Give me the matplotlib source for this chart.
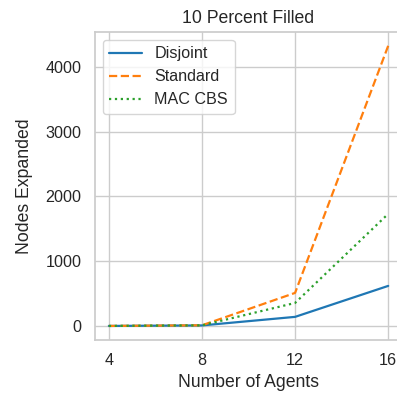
import matplotlib
matplotlib.use("Agg")
import matplotlib.pyplot as plt
import seaborn as sns

agents = [4, 8, 12, 16]
disjoint = [0, 8, 140, 618]
standard = [0, 10, 510, 4324]
mac_cbs = [0, 9, 355, 1730]

sns.set_theme(style="whitegrid")
plt.rcParams['font.family'] = ['Liberation Sans', 'DejaVu Sans']

fig = plt.figure(figsize=(3.97, 3.93), dpi=100)
# right edge runs a little past the image, as in the reference
ax = fig.add_axes([0.239, 0.135, 0.774, 0.784])

ax.plot(agents, disjoint, label="Disjoint", color="#1f77b4", linestyle="-", linewidth=1.6)
ax.plot(agents, standard, label="Standard", color="#ff7f0e", linestyle="--", linewidth=1.6)
ax.plot(agents, mac_cbs, label="MAC CBS", color="#2ca02c", linestyle=":", linewidth=1.6)

ax.set_xticks(agents)
ax.set_yticks([0, 1000, 2000, 3000, 4000])
ax.set_title("10 Percent Filled", fontsize=12.7)
ax.set_xlabel("Number of Agents", fontsize=12.7)
ax.set_ylabel("Nodes Expanded", fontsize=12.7, labelpad=9)
ax.tick_params(labelsize=11.6)
ax.legend(loc="upper left", fontsize=11.6)

fig.savefig("out.png", dpi=100)
